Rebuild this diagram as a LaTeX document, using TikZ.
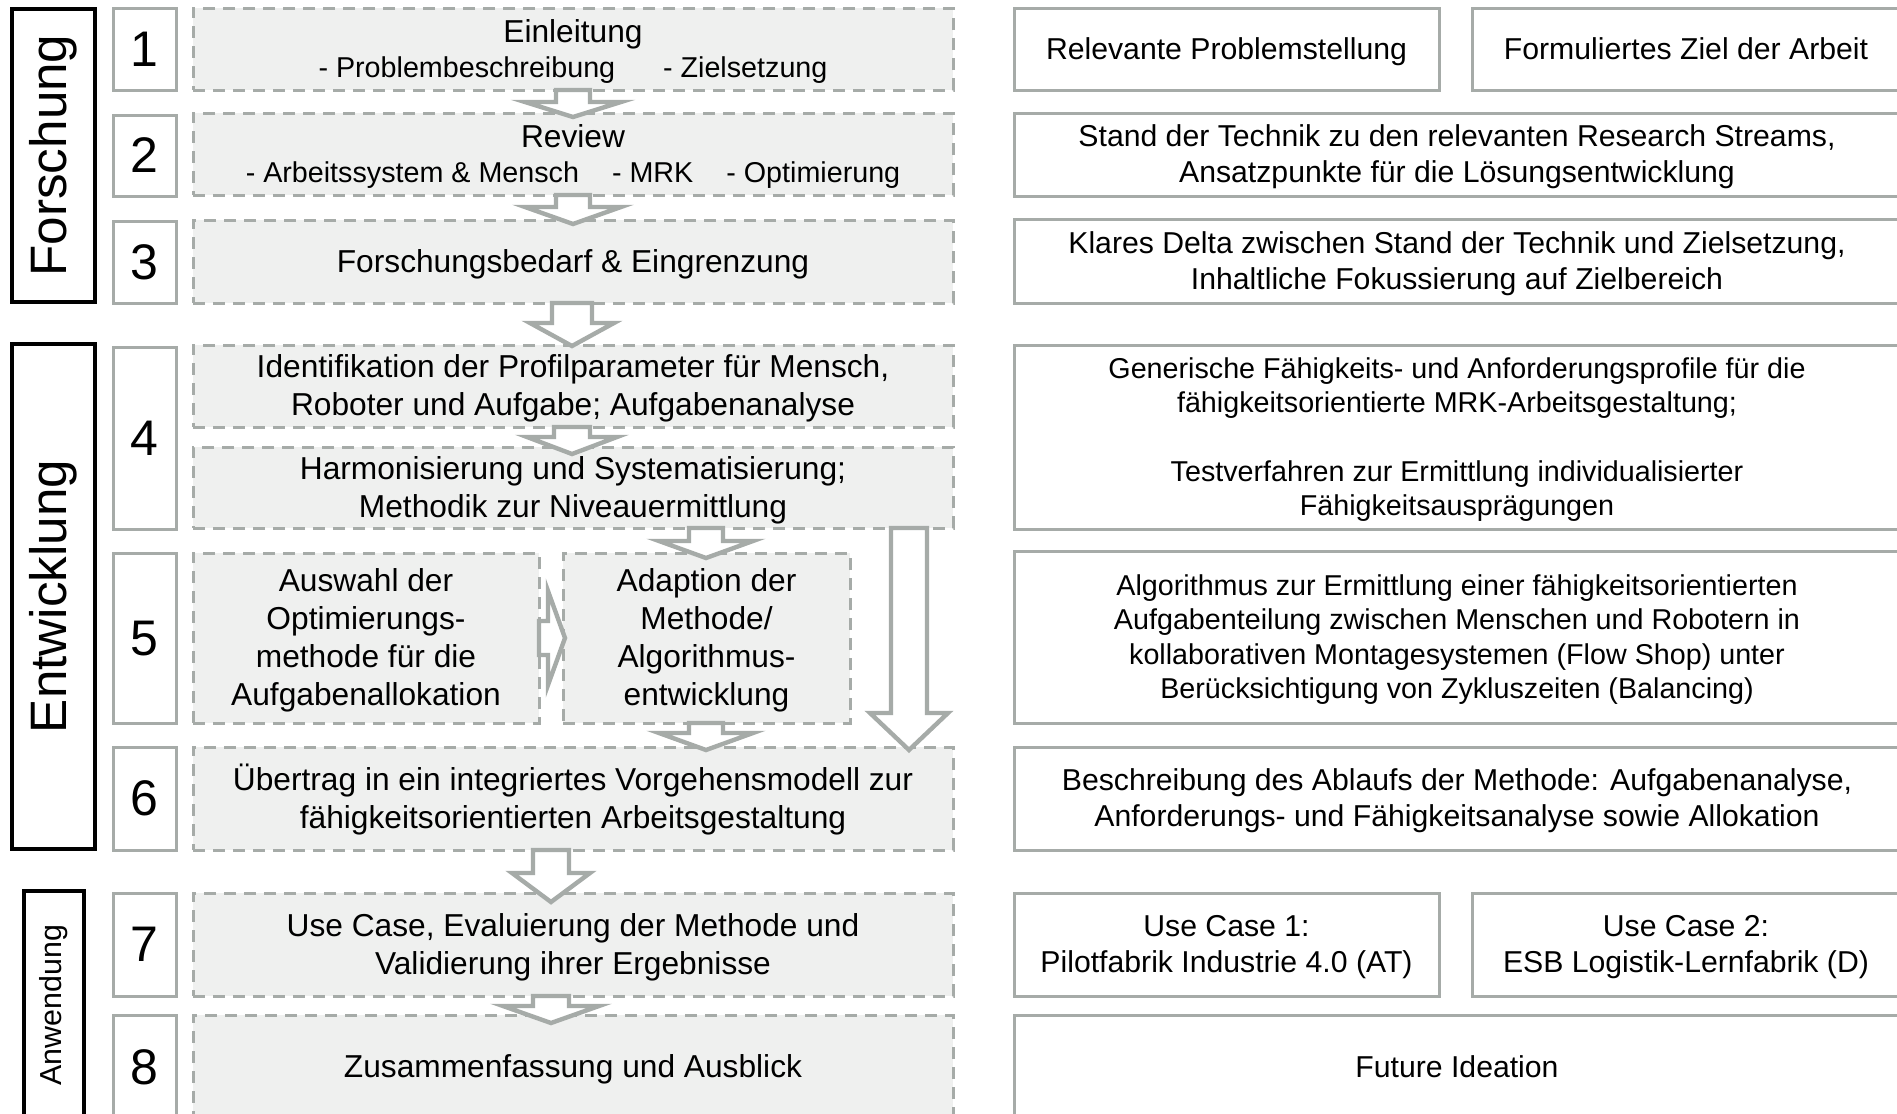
\documentclass[tikz,border=0pt]{standalone}
\usepackage{fontspec}
\setmainfont{Liberation Sans}
\usetikzlibrary{calc}

\definecolor{framegray}{RGB}{166,171,168}
\definecolor{stepfill}{RGB}{239,240,239}

% fixed line ascent/descent so that boxes centre their text like a text frame
\newcommand{\topstrut}{\rule{0pt}{0.905em}}
\newcommand{\botstrut}{\rule[-0.212em]{0pt}{0pt}}

% rectangle node given by its pixel corners (x1,y1)-(x2,y2)
\newcommand{\pxbox}[7]{%
  \node[#6, minimum width={(#4-#2)*0.5pt}, minimum height={(#5-#3)*0.5pt}]
    (#1) at ({(#2+#4)/2},{(#3+#5)/2}) {\topstrut#7\botstrut};}

% downward block arrow: from, to, x, shaft half width, head half width, head length, overshoot
\newcommand{\blockdown}[7]{%
  \draw[blockarrow] let \p1=(#1.south), \p2=(#2.north) in
    ({(#3-#4)*0.5pt},\y1) -- ({(#3-#4)*0.5pt},{\y2+(#6-#7)*0.5pt})
    -- ({(#3-#5)*0.5pt},{\y2+(#6-#7)*0.5pt}) -- ({#3*0.5pt},{\y2-#7*0.5pt})
    -- ({(#3+#5)*0.5pt},{\y2+(#6-#7)*0.5pt}) -- ({(#3+#4)*0.5pt},{\y2+(#6-#7)*0.5pt})
    -- ({(#3+#4)*0.5pt},\y1) -- cycle;}

% rightward block arrow: from, to, y, shaft half width, head half width, head length, overshoot
\newcommand{\blockright}[7]{%
  \draw[blockarrow] let \p1=(#1.east), \p2=(#2.west) in
    (\x1,{-(#3-#4)*0.5pt}) -- ({\x2+(#7-#6)*0.5pt},{-(#3-#4)*0.5pt})
    -- ({\x2+(#7-#6)*0.5pt},{-(#3-#5)*0.5pt}) -- ({\x2+#7*0.5pt},{-#3*0.5pt})
    -- ({\x2+(#7-#6)*0.5pt},{-(#3+#5)*0.5pt}) -- ({\x2+(#7-#6)*0.5pt},{-(#3+#4)*0.5pt})
    -- (\x1,{-(#3+#4)*0.5pt}) -- cycle;}

% smaller type for the bullet lines of steps 1 and 2
\newcommand{\subline}[1]{{\fontsize{14.35}{17}\selectfont #1}}

\tikzset{
  catbox/.style={draw=black, line width=1.7pt, fill=white, inner sep=0pt, outer sep=0pt,
    rotate=90, font=\fontsize{25.6}{30}\selectfont},
  numbox/.style={draw=framegray, line width=1.5pt, fill=white, inner sep=0pt, outer sep=0pt,
    font=\fontsize{25}{30}\selectfont},
  stepbox/.style={draw=framegray, line width=1.5pt, dash pattern=on 6pt off 4pt,
    fill=stepfill, inner sep=0pt, outer sep=0pt, align=center,
    font=\fontsize{15.85}{19}\selectfont},
  resbox/.style={draw=framegray, line width=1.5pt, fill=white, inner sep=0pt, outer sep=0pt,
    align=center, font=\fontsize{15.1}{18}\selectfont},
  ressmall/.style={resbox, font=\fontsize{14.35}{17.2}\selectfont},
  blockarrow/.style={draw=framegray, line width=2.2pt, fill=white, line join=miter},
}

\begin{document}
\begin{tikzpicture}[x=0.5pt, y=-0.5pt]
\useasboundingbox (0,0) rectangle (1897,1114);
\clip (0,0) rectangle (1897,1114);

% phase labels
\node[catbox, minimum width={293*0.5pt}, minimum height={83*0.5pt}] (forschung) at (53.5,155.5) {Forschung};
\node[catbox, minimum width={505*0.5pt}, minimum height={83*0.5pt}] (entwicklung) at (53.5,596.5) {Entwicklung};
\node[catbox, minimum width={228*0.5pt}, minimum height={60*0.5pt}, font=\fontsize{15.2}{18}\selectfont] (anwendung) at (54,1005) {Anwendung};

% step numbers
\pxbox{n1}{113}{8}{176}{90}{numbox}{1}
\pxbox{n2}{113}{115}{176}{196}{numbox}{2}
\pxbox{n3}{113}{221}{176}{303}{numbox}{3}
\pxbox{n4}{113}{347}{176}{529}{numbox}{4}
\pxbox{n5}{113}{553}{176}{723}{numbox}{5}
\pxbox{n6}{113}{747}{176}{850}{numbox}{6}
\pxbox{n7}{113}{893}{176}{996}{numbox}{7}
\pxbox{n8}{113}{1015}{176}{1119}{numbox}{8}

% process steps
\pxbox{s1}{193}{8}{953}{90}{stepbox}{Einleitung\\[-1.5pt]\subline{- Problembeschreibung\hspace{1.67em}- Zielsetzung}}
\pxbox{s2}{193}{113}{953}{195}{stepbox}{Review\\[-1.5pt]\subline{- Arbeitssystem \& Mensch\hspace{1.15em}- MRK\hspace{1.15em}- Optimierung}}
\pxbox{s3}{193}{220}{953}{303}{stepbox}{Forschungsbedarf \& Eingrenzung}
\pxbox{s4a}{193}{345}{953}{427}{stepbox}{Identifikation der Profilparameter für Mensch,\\Roboter und Aufgabe; Aufgabenanalyse}
\pxbox{s4b}{193}{447}{953}{528}{stepbox}{Harmonisierung und Systematisierung;\\Methodik zur Niveauermittlung}
\pxbox{s5a}{193}{553}{539}{723}{stepbox}{Auswahl der\\Optimierungs-\\methode für die\\Aufgabenallokation}
\pxbox{s5b}{563}{553}{850}{723}{stepbox}{Adaption der\\Methode/\\Algorithmus-\\entwicklung}
\pxbox{s6}{193}{747}{953}{850}{stepbox}{Übertrag in ein integriertes Vorgehensmodell zur\\fähigkeitsorientierten Arbeitsgestaltung}
\pxbox{s7}{193}{893}{953}{996}{stepbox}{Use Case, Evaluierung der Methode und\\Validierung ihrer Ergebnisse}
\pxbox{s8}{193}{1015}{953}{1119}{stepbox}{Zusammenfassung und Ausblick}

% results
\pxbox{r1a}{1014}{8}{1439}{90}{resbox}{Relevante Problemstellung}
\pxbox{r1b}{1472}{8}{1900}{90}{resbox}{Formuliertes Ziel der Arbeit}
\pxbox{r2}{1014}{113}{1900}{196}{resbox}{Stand der Technik zu den relevanten Research Streams,\\Ansatzpunkte für die Lösungsentwicklung}
\pxbox{r3}{1014}{219}{1900}{303}{resbox}{Klares Delta zwischen Stand der Technik und Zielsetzung,\\Inhaltliche Fokussierung auf Zielbereich}
\pxbox{r4}{1014}{345}{1900}{529}{ressmall}{Generische Fähigkeits- und Anforderungsprofile für die\\fähigkeitsorientierte MRK-Arbeitsgestaltung;\\[17.2pt]Testverfahren zur Ermittlung individualisierter\\Fähigkeitsausprägungen}
\pxbox{r5}{1014}{551}{1900}{723}{ressmall}{Algorithmus zur Ermittlung einer fähigkeitsorientierten\\Aufgabenteilung zwischen Menschen und Robotern in\\kollaborativen Montagesystemen (Flow Shop) unter\\Berücksichtigung von Zykluszeiten (Balancing)}
\pxbox{r6}{1014}{747}{1900}{850}{resbox}{Beschreibung des Ablaufs der Methode: Aufgabenanalyse,\\Anforderungs- und Fähigkeitsanalyse sowie Allokation}
\pxbox{r7a}{1014}{893}{1439}{996}{resbox}{Use Case 1:\\Pilotfabrik Industrie 4.0 (AT)}
\pxbox{r7b}{1472}{893}{1900}{996}{resbox}{Use Case 2:\\ESB Logistik-Lernfabrik (D)}
\pxbox{r8}{1014}{1015}{1900}{1119}{resbox}{Future Ideation}

% flow arrows
\blockdown{s1}{s2}{573}{17}{48}{15}{4}
\blockdown{s2}{s3}{573}{17}{48}{17}{4}
\blockdown{s3}{s4a}{572}{20}{42}{23}{1}
\blockdown{s4a}{s4b}{572}{18}{45}{17}{7}
\blockdown{s4b}{s5b}{706}{17}{47}{17}{5}
\blockright{s5a}{s5b}{638}{17}{47}{17}{2}
\blockdown{s5b}{s6}{706}{17}{47}{17}{3}
\blockdown{s4b}{s6}{909}{18}{39}{37}{3}
\blockdown{s6}{s7}{551}{18}{39}{29}{9}
\blockdown{s7}{s8}{551}{18}{48}{17}{8}
\end{tikzpicture}
\end{document}
